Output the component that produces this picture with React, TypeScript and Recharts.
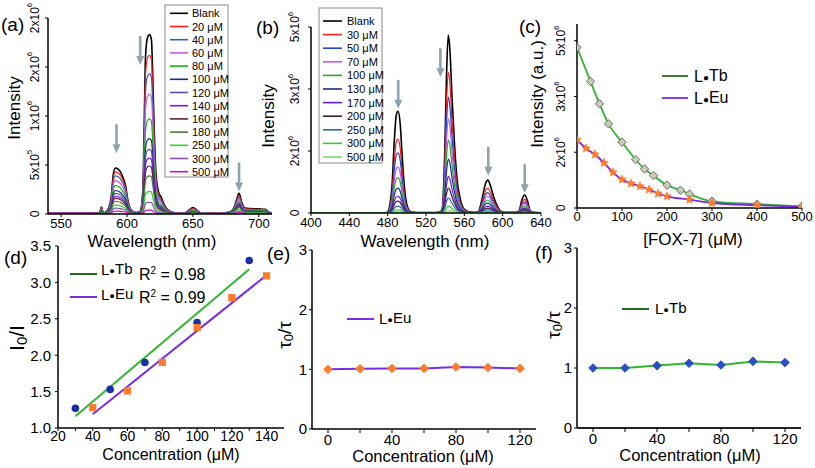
import React from 'react';
import {
  LineChart,
  Line,
  XAxis,
  YAxis,
  ComposedChart,
  Scatter,
  ReferenceDot,
  ReferenceLine,
} from 'recharts';

const FONT = '"Liberation Sans", Arial, Helvetica, sans-serif';

// ---------------- Panel (a): L•Eu emission spectra ----------------
const euSeriesLabels = ['Blank', '20 μM', '40 μM', '60 μM', '80 μM', '100 μM', '120 μM', '140 μM', '160 μM', '180 μM', '250 μM', '300 μM', '500 μM'];
const euColors = ['#000000', '#ff1a1a', '#3a5cc0', '#c65be0', '#12b312', '#1c2a80', '#5a4bb0', '#7a10ff', '#5c2232', '#4d7a3a', '#2fd02f', '#8a52b4', '#d010b0'];
const euWavelength = [540, 574, 579, 580.5, 582, 584, 586, 588, 589.5, 591, 593, 595, 597, 599, 600.5, 602, 604, 607, 610, 612, 613, 614, 615.5, 617, 618.5, 619.5, 620.5, 622, 624, 626, 628, 632, 638, 644, 647, 650, 653, 656, 670, 678, 681, 683, 685, 687, 689.5, 693, 700, 705, 707.5, 710];
const euBlank = [0.008, 0.008, 0.012, 0.07, 0.012, 0.02, 0.06, 0.18, 0.4, 0.47, 0.46, 0.43, 0.37, 0.28, 0.15, 0.07, 0.03, 0.015, 0.03, 0.25, 0.9, 1.6, 1.8, 1.83, 1.78, 1.4, 0.9, 0.4, 0.22, 0.17, 0.1, 0.03, 0.01, 0.012, 0.04, 0.065, 0.04, 0.012, 0.008, 0.02, 0.06, 0.14, 0.21, 0.12, 0.06, 0.055, 0.052, 0.048, 0.02, 0.008];
const euBandEdges = [576, 608, 670]; // 590 band | 617 band | 685 band
const euPeak590 = [0.47, 0.43, 0.39, 0.34, 0.29, 0.24, 0.21, 0.18, 0.16, 0.13, 0.09, 0.06, 0.03];
const euPeak617 = [1.83, 1.62, 1.43, 1.22, 0.97, 0.77, 0.66, 0.57, 0.49, 0.39, 0.23, 0.12, 0.04];
const euPeak685 = [0.21, 0.19, 0.17, 0.15, 0.13, 0.11, 0.1, 0.09, 0.08, 0.07, 0.05, 0.03, 0.015];
const euYTicks = [0, 0.5, 1, 1.5, 2];
const euYTickBase = ['0', '5x10', '1x10', '2x10', '2x10'];
const euYTickExp = ['', '5', '6', '6', '6'];
const euXTicks = [550, 600, 650, 700];
const euArrowX = [592, 610, 685];
const euArrowTip = [0.62, 1.52, 0.23];

// ---------------- Panel (b): L•Tb emission spectra ----------------
const tbSeriesLabels = ['Blank', '30 μM', '50 μM', '70 μM', '100 μM', '130 μM', '170 μM', '200 μM', '250 μM', '300 μM', '500 μM'];
const tbColors = ['#000000', '#ff1a1a', '#2547cc', '#bb58ee', '#22aa22', '#1a2a8a', '#6a1ad0', '#4a1a2a', '#2a6aaa', '#33cc33', '#70e070'];
const tbWavelength = [400, 478, 480, 482.5, 484.5, 487, 489, 490.8, 493, 495, 497.4, 500, 503.5, 510, 530, 535, 537, 539.6, 541.4, 543.2, 544.8, 547.3, 549.7, 552.5, 556, 560, 566, 573, 575, 578.7, 582.2, 584.6, 587.4, 591, 594.4, 598, 604, 614, 617, 620, 623, 626, 628.6, 632, 640];
const tbBlank = [0.005, 0.005, 0.02, 0.15, 0.43, 1.18, 1.58, 1.64, 1.45, 0.96, 0.43, 0.14, 0.03, 0.008, 0.008, 0.02, 0.08, 1.0, 2.2, 2.87, 2.67, 1.82, 1.12, 0.53, 0.21, 0.06, 0.015, 0.01, 0.03, 0.24, 0.48, 0.53, 0.43, 0.24, 0.11, 0.03, 0.01, 0.01, 0.03, 0.21, 0.29, 0.19, 0.04, 0.01, 0.005];
const tbBandEdges = [470, 520, 570, 605]; // 490 | 545 | 585 | 622
const tbPeak490 = [1.64, 1.19, 0.97, 0.74, 0.57, 0.4, 0.27, 0.19, 0.11, 0.05, 0.02];
const tbPeak545 = [2.87, 2.27, 1.87, 1.52, 1.18, 0.87, 0.59, 0.4, 0.24, 0.11, 0.04];
const tbPeak585 = [0.53, 0.4, 0.33, 0.27, 0.21, 0.16, 0.11, 0.08, 0.05, 0.025, 0.01];
const tbPeak622 = [0.29, 0.22, 0.18, 0.15, 0.11, 0.08, 0.06, 0.04, 0.025, 0.012, 0.005];
const tbYTicks = [0, 1, 2, 3];
const tbYTickBase = ['0', '2x10', '3x10', '5x10'];
const tbYTickExp = ['', '6', '6', '6'];
const tbXTicks = [400, 440, 480, 520, 560, 600, 640];
const tbArrowX = [491, 535, 585, 623];
const tbArrowTip = [1.68, 2.19, 0.6, 0.32];

// ---------------- Panel (c): intensity vs [FOX-7] ----------------
const cTbFox = [0, 30, 50, 70, 100, 130, 150, 170, 200, 230, 250, 300, 400, 500];
const cTbInt = [2.88, 2.27, 1.87, 1.51, 1.18, 0.87, 0.7, 0.58, 0.41, 0.32, 0.25, 0.12, 0.07, 0.03];
const cEuFox = [0, 20, 40, 60, 80, 100, 120, 140, 160, 180, 200, 250, 300, 400, 500];
const cEuInt = [1.22, 1.07, 0.96, 0.81, 0.64, 0.51, 0.44, 0.39, 0.33, 0.26, 0.21, 0.15, 0.09, 0.05, 0.02];
const cXTicks = [0, 100, 200, 300, 400, 500];
const cYTicks = [0, 1, 2, 3];
const cYTickBase = ['0', '2x10', '3x10', '5x10'];
const cYTickExp = ['', '6', '6', '6'];

// ---------------- Panel (d): Stern–Volmer ----------------
const dTbConc = [30, 50, 70, 100, 130];
const dTbRatio = [1.27, 1.53, 1.9, 2.45, 3.3];
const dEuConc = [40, 60, 80, 100, 120, 140];
const dEuRatio = [1.28, 1.51, 1.9, 2.38, 2.79, 3.09];
const dTbFitX = [30, 130];
const dTbFitY = [1.16, 3.18];
const dEuFitX = [40, 140];
const dEuFitY = [1.19, 3.1];
const dXTicks = [20, 30, 40, 50, 60, 70, 80, 90, 100, 110, 120, 130, 140];
const dYTicks = [1, 1.5, 2, 2.5, 3, 3.5];

// ---------------- Panels (e), (f): lifetime ratios ----------------
const lifeConc = [0, 20, 40, 60, 80, 100, 120];
const eEuTau = [1.0, 1.01, 1.015, 1.015, 1.04, 1.03, 1.015];
const fTbTau = [1.0, 1.0, 1.04, 1.08, 1.05, 1.11, 1.09];
const lifeXTicks = [0, 20, 40, 60, 80, 100, 120];
const lifeYTicks = [0, 1, 2, 3];

// ---------------- helpers ----------------
function bandIndex(w: number, edges: number[]) {
  let k = -1;
  for (let i = 0; i < edges.length; i++) if (w >= edges[i]) k = i;
  return k;
}

function buildSpectra(wl: number[], blank: number[], edges: number[], peaks: number[][], n: number) {
  return wl.map((w, i) => {
    const row: any = { wl: w };
    const b = bandIndex(w, edges);
    for (let s = 0; s < n; s++) {
      row['s' + s] = b < 0 ? blank[i] : (blank[i] * peaks[b][s]) / peaks[b][0];
    }
    return row;
  });
}

const euData = buildSpectra(euWavelength, euBlank, euBandEdges, [euPeak590, euPeak617, euPeak685], euSeriesLabels.length);
const tbData = buildSpectra(tbWavelength, tbBlank, tbBandEdges, [tbPeak490, tbPeak545, tbPeak585, tbPeak622], tbSeriesLabels.length);

const zipXY = (xs: number[], ys: number[]) => xs.map((x, i) => ({ x, y: ys[i] }));

const AXIS_LINE = { stroke: '#000', strokeWidth: 1.5 };
const TICK_LINE = { stroke: '#000', strokeWidth: 1 };

const makeRotTick = (ticks: number[], bases: string[], exps: string[], dx: number, size: number) => (props: any) => {
  const { x, y, payload } = props;
  const i = ticks.indexOf(payload.value);
  if (i < 0) return <g />;
  return (
    <text
      transform={`translate(${x + dx},${y}) rotate(-90)`}
      textAnchor="middle"
      dominantBaseline="central"
      fontSize={size}
      fontFamily={FONT}
      fill="#000"
    >
      {bases[i]}
      {exps[i] ? (
        <tspan dy={-size * 0.45} fontSize={size * 0.65}>
          {exps[i]}
        </tspan>
      ) : null}
    </text>
  );
};

const Arrow = (props: any) => {
  const { cx, cy } = props;
  if (cx == null || cy == null) return <g />;
  const col = '#8fa2ad';
  return (
    <g>
      <line x1={cx} y1={cy - 29} x2={cx} y2={cy - 8} stroke={col} strokeWidth={2.6} />
      <path d={`M${cx - 4},${cy - 9} L${cx + 4},${cy - 9} L${cx},${cy} Z`} fill={col} />
    </g>
  );
};

const Diamond = (fill: string, stroke: string, r: number) => (props: any) => {
  const { cx, cy } = props;
  if (cx == null || cy == null) return <g />;
  return <path d={`M${cx},${cy - r} L${cx + r},${cy} L${cx},${cy + r} L${cx - r},${cy} Z`} fill={fill} stroke={stroke} strokeWidth={1} />;
};

const Star = (props: any) => {
  const { cx, cy } = props;
  if (cx == null || cy == null) return <g />;
  const pts: string[] = [];
  for (let k = 0; k < 10; k++) {
    const r = k % 2 === 0 ? 4.6 : 2;
    const a = -Math.PI / 2 + (k * Math.PI) / 5;
    pts.push(`${cx + r * Math.cos(a)},${cy + r * Math.sin(a)}`);
  }
  return <polygon points={pts.join(' ')} fill="#ff7a2a" stroke="#ff6a10" strokeWidth={0.5} />;
};

const CircleDot = (props: any) => {
  const { cx, cy } = props;
  return <circle cx={cx} cy={cy} r={3.8} fill="#1a2ea8" />;
};
const SquareDot = (props: any) => {
  const { cx, cy } = props;
  return <rect x={cx - 3.6} y={cy - 3.6} width={7.2} height={7.2} fill="#ff7a2a" />;
};

const box = (left: number, top: number): React.CSSProperties => ({ position: 'absolute', left, top });

function SpectrumLegend({ x, y, w, h, firstY, step, lineX1, lineX2, textX, labels, colors }: any) {
  return (
    <g>
      <rect x={x} y={y} width={w} height={h} fill="#fff" stroke="#8a8a8a" strokeWidth={1} />
      {labels.map((lab: string, i: number) => (
        <g key={lab}>
          <line x1={lineX1} x2={lineX2} y1={firstY + i * step} y2={firstY + i * step} stroke={colors[i]} strokeWidth={1.6} />
          <text x={textX} y={firstY + i * step} dominantBaseline="central" fontSize={11} fontFamily={FONT} fill="#000">
            {lab}
          </text>
        </g>
      ))}
    </g>
  );
}

const Dot = () => <tspan fontSize="0.62em" dy="-0.12em">●</tspan>;

export default function App() {
  const T = (p: any) => <text fontFamily={FONT} fill="#000" {...p} />;
  return (
    <div style={{ position: 'absolute', left: 0, top: 0, width: 815, height: 468, background: '#fff', overflow: 'hidden' }}>
      {/* (a) */}
      <div style={box(0, 0)}>
        <LineChart width={272} height={240} data={euData} margin={{ top: 18, right: 0, bottom: 0, left: 0 }}>
          <XAxis dataKey="wl" type="number" domain={[540, 710]} allowDataOverflow ticks={euXTicks} axisLine={AXIS_LINE} tickLine={TICK_LINE} tickSize={3} tickMargin={2} height={26} tick={{ fontSize: 13, fontFamily: FONT, fill: '#000' }} interval={0} />
          <YAxis type="number" domain={[0, 2]} allowDataOverflow ticks={euYTicks} width={48} axisLine={AXIS_LINE} tickLine={TICK_LINE} tickSize={3} tickMargin={2} interval={0} tick={makeRotTick(euYTicks, euYTickBase, euYTickExp, -8.5, 12)} />
          {euSeriesLabels.map((lab, s) => (
            <Line key={lab} dataKey={'s' + s} type="monotone" stroke={euColors[s]} strokeWidth={s === 0 ? 1.6 : 1.2} dot={false} activeDot={false} isAnimationActive={false} />
          ))}
          {euArrowX.map((x, i) => (
            <ReferenceDot key={'ea' + i} x={x} y={euArrowTip[i]} shape={Arrow} ifOverflow="visible" />
          ))}
        </LineChart>
      </div>

      {/* (b) */}
      <div style={box(271, 0)}>
        <LineChart width={282} height={239} data={tbData} margin={{ top: 27, right: 12, bottom: 0, left: 0 }}>
          <XAxis dataKey="wl" type="number" domain={[400, 640]} allowDataOverflow ticks={tbXTicks} axisLine={AXIS_LINE} tickLine={TICK_LINE} tickSize={3} tickMargin={2} height={26} tick={{ fontSize: 13, fontFamily: FONT, fill: '#000' }} interval={0} />
          <YAxis type="number" domain={[0, 3]} allowDataOverflow ticks={tbYTicks} width={40} axisLine={AXIS_LINE} tickLine={TICK_LINE} tickSize={3} tickMargin={2} interval={0} tick={makeRotTick(tbYTicks, tbYTickBase, tbYTickExp, -11, 12)} />
          {tbSeriesLabels.map((lab, s) => (
            <Line key={lab} dataKey={'s' + s} type="monotone" stroke={tbColors[s]} strokeWidth={s === 0 ? 1.6 : 1.2} dot={false} activeDot={false} isAnimationActive={false} />
          ))}
          {tbArrowX.map((x, i) => (
            <ReferenceDot key={'ta' + i} x={x} y={tbArrowTip[i]} shape={Arrow} ifOverflow="visible" />
          ))}
        </LineChart>
      </div>

      {/* (c) */}
      <div style={box(537, 0)}>
        <LineChart width={277} height={232} margin={{ top: 24, right: 12, bottom: 0, left: 0 }}>
          <XAxis dataKey="x" type="number" domain={[0, 500]} allowDataOverflow ticks={cXTicks} axisLine={AXIS_LINE} tickLine={TICK_LINE} tickSize={3} tickMargin={1} height={24} tick={{ fontSize: 13, fontFamily: FONT, fill: '#000' }} interval={0} />
          <YAxis type="number" domain={[0, 3.3]} allowDataOverflow ticks={cYTicks} width={40} axisLine={AXIS_LINE} tickLine={TICK_LINE} tickSize={3} tickMargin={2} interval={0} tick={makeRotTick(cYTicks, cYTickBase, cYTickExp, -11, 12)} />
          <Line data={zipXY(cTbFox, cTbInt)} dataKey="y" type="monotone" stroke="#35b035" strokeWidth={1.8} dot={Diamond('#c9cbb8', '#6f7466', 4.2)} activeDot={false} isAnimationActive={false} />
          <Line data={zipXY(cEuFox, cEuInt)} dataKey="y" type="monotone" stroke="#7a2ce0" strokeWidth={1.8} dot={Star} activeDot={false} isAnimationActive={false} />
        </LineChart>
      </div>

      {/* (d) */}
      <div style={box(0, 230)}>
        <ComposedChart width={288} height={238} margin={{ top: 16, right: 4, bottom: 0, left: 0 }}>
          <XAxis dataKey="x" type="number" domain={[20, 150]} allowDataOverflow ticks={dXTicks} interval={0} axisLine={AXIS_LINE} tickLine={TICK_LINE} tickSize={3} tickMargin={0} height={40} tickFormatter={(v: number) => (v % 20 === 0 ? String(v) : '')} tick={{ fontSize: 14, fontFamily: FONT, fill: '#000' }} />
          <YAxis type="number" domain={[1, 3.5]} allowDataOverflow ticks={dYTicks} interval={0} width={58} axisLine={AXIS_LINE} tickLine={TICK_LINE} tickSize={3} tickMargin={4} tickFormatter={(v: number) => v.toFixed(1)} tick={{ fontSize: 15, fontFamily: FONT, fill: '#000' }} />
          <Line data={zipXY(dTbFitX, dTbFitY)} dataKey="y" type="linear" stroke="#2eb82e" strokeWidth={2} dot={false} activeDot={false} isAnimationActive={false} />
          <Line data={zipXY(dEuFitX, dEuFitY)} dataKey="y" type="linear" stroke="#7a2ce0" strokeWidth={2} dot={false} activeDot={false} isAnimationActive={false} />
          <Scatter data={zipXY(dTbConc, dTbRatio)} dataKey="y" shape={CircleDot} isAnimationActive={false} />
          <Scatter data={zipXY(dEuConc, dEuRatio)} dataKey="y" shape={SquareDot} isAnimationActive={false} />
        </ComposedChart>
      </div>

      {/* (e) */}
      <div style={box(282, 240)}>
        <LineChart width={264} height={225} margin={{ top: 10, right: 10, bottom: 0, left: 0 }}>
          <XAxis dataKey="x" type="number" domain={[-10, 130]} allowDataOverflow ticks={lifeXTicks} interval={0} axisLine={AXIS_LINE} tickLine={TICK_LINE} tickSize={4} tickMargin={1} height={36} tickFormatter={(v: number) => (v % 40 === 0 ? String(v) : '')} tick={{ fontSize: 15, fontFamily: FONT, fill: '#000' }} />
          <YAxis type="number" domain={[0, 3]} allowDataOverflow ticks={lifeYTicks} interval={0} width={30} axisLine={AXIS_LINE} tickLine={TICK_LINE} tickSize={3} tickMargin={2} tick={{ fontSize: 15, fontFamily: FONT, fill: '#000' }} />
          <Line data={zipXY(lifeConc, eEuTau)} dataKey="y" type="linear" stroke="#7a2ce0" strokeWidth={2} dot={Diamond('#ff7a2a', '#ff7a2a', 4.3)} activeDot={false} isAnimationActive={false} />
        </LineChart>
      </div>

      {/* (f) */}
      <div style={box(547, 240)}>
        <LineChart width={266} height={224} margin={{ top: 8, right: 12, bottom: 0, left: 0 }}>
          <XAxis dataKey="x" type="number" domain={[-10, 130]} allowDataOverflow ticks={lifeXTicks} interval={0} axisLine={AXIS_LINE} tickLine={TICK_LINE} tickSize={4} tickMargin={1} height={36} tickFormatter={(v: number) => (v % 40 === 0 ? String(v) : '')} tick={{ fontSize: 15, fontFamily: FONT, fill: '#000' }} />
          <YAxis type="number" domain={[0, 3]} allowDataOverflow ticks={lifeYTicks} interval={0} width={30} axisLine={AXIS_LINE} tickLine={TICK_LINE} tickSize={3} tickMargin={2} tick={{ fontSize: 15, fontFamily: FONT, fill: '#000' }} />
          <ReferenceLine y={0} stroke="#3a5ad0" strokeWidth={1.5} ifOverflow="visible" />
          <Line data={zipXY(lifeConc, fTbTau)} dataKey="y" type="linear" stroke="#2eb82e" strokeWidth={2} dot={Diamond('#2a4fc8', '#2a4fc8', 4.3)} activeDot={false} isAnimationActive={false} />
        </LineChart>
      </div>

      {/* text overlay: panel letters, axis titles, legends */}
      <svg width={815} height={468} style={{ position: 'absolute', left: 0, top: 0, pointerEvents: 'none' }}>
        <T x={1} y={31} fontSize={19}>(a)</T>
        <T x={256} y={34} fontSize={19}>(b)</T>
        <T x={519} y={33} fontSize={19}>(c)</T>
        <T x={4} y={264} fontSize={19}>(d)</T>
        <T x={267} y={260} fontSize={19}>(e)</T>
        <T x={535} y={259} fontSize={19}>(f)</T>

        <T transform="translate(14,108) rotate(-90)" textAnchor="middle" dominantBaseline="central" fontSize={17}>Intensity</T>
        <T transform="translate(268,116) rotate(-90)" textAnchor="middle" dominantBaseline="central" fontSize={17}>Intensity</T>
        <T transform="translate(537,94) rotate(-90)" textAnchor="middle" dominantBaseline="central" fontSize={17}>Intensity (a.u.)</T>
        <T x={152} y={247} textAnchor="middle" fontSize={17}>Wavelength (nm)</T>
        <T x={425} y={247} textAnchor="middle" fontSize={17}>Wavelength (nm)</T>
        <T x={693} y={245} textAnchor="middle" fontSize={17}>[FOX-7] (μM)</T>

        <T transform="translate(16,338) rotate(-90)" textAnchor="middle" dominantBaseline="central" fontSize={21}>
          I<tspan fontSize={15} dy={5}>0</tspan><tspan dy={-5}>/I</tspan>
        </T>
        <T transform="translate(284,335) rotate(-90)" textAnchor="middle" dominantBaseline="central" fontSize={19}>
          τ<tspan fontSize={13} dy={4}>0</tspan><tspan dy={-4}>/τ</tspan>
        </T>
        <T transform="translate(553,325) rotate(-90)" textAnchor="middle" dominantBaseline="central" fontSize={19}>
          τ<tspan fontSize={13} dy={4}>0</tspan><tspan dy={-4}>/τ</tspan>
        </T>
        <T x={171} y={460} textAnchor="middle" fontSize={16}>Concentration (μM)</T>
        <T x={423} y={462} textAnchor="middle" fontSize={16.5}>Concentration (μM)</T>
        <T x={690} y={461} textAnchor="middle" fontSize={16.5}>Concentration (μM)</T>

        <SpectrumLegend x={165} y={5} w={63} h={172} firstY={13.3} step={13.2} lineX1={170} lineX2={188} textX={192} labels={euSeriesLabels} colors={euColors} />
        <SpectrumLegend x={319} y={8} w={63} h={155} firstY={21} step={13.6} lineX1={323} lineX2={342} textX={347} labels={tbSeriesLabels} colors={tbColors} />

        {/* (c) legend */}
        <line x1={662} x2={688} y1={76} y2={76} stroke="#2d6b1f" strokeWidth={1.8} />
        <T x={694} y={82} fontSize={16}>L<Dot />Tb</T>
        <line x1={662} x2={688} y1={98} y2={98} stroke="#7a2ce0" strokeWidth={1.8} />
        <T x={694} y={104} fontSize={16}>L<Dot />Eu</T>

        {/* (d) legend */}
        <line x1={70} x2={97} y1={274} y2={274} stroke="#1f6b1f" strokeWidth={2} />
        <T x={101} y={275} fontSize={15}>L<Dot />Tb</T>
        <T x={139} y={280} fontSize={16}>R<tspan fontSize={10} dy={-6}>2</tspan><tspan dy={6}> = 0.98</tspan></T>
        <line x1={70} x2={97} y1={297} y2={297} stroke="#7a2ce0" strokeWidth={2} />
        <T x={101} y={300} fontSize={15}>L<Dot />Eu</T>
        <T x={139} y={303} fontSize={16}>R<tspan fontSize={10} dy={-6}>2</tspan><tspan dy={6}> = 0.99</tspan></T>

        {/* (e) legend */}
        <line x1={347} x2={374} y1={319} y2={319} stroke="#7a2ce0" strokeWidth={2} />
        <T x={379} y={324} fontSize={15}>L<Dot />Eu</T>

        {/* (f) legend */}
        <line x1={622} x2={649} y1={309} y2={309} stroke="#1f6b1f" strokeWidth={2} />
        <T x={655} y={314} fontSize={15}>L<Dot />Tb</T>
      </svg>
    </div>
  );
}
